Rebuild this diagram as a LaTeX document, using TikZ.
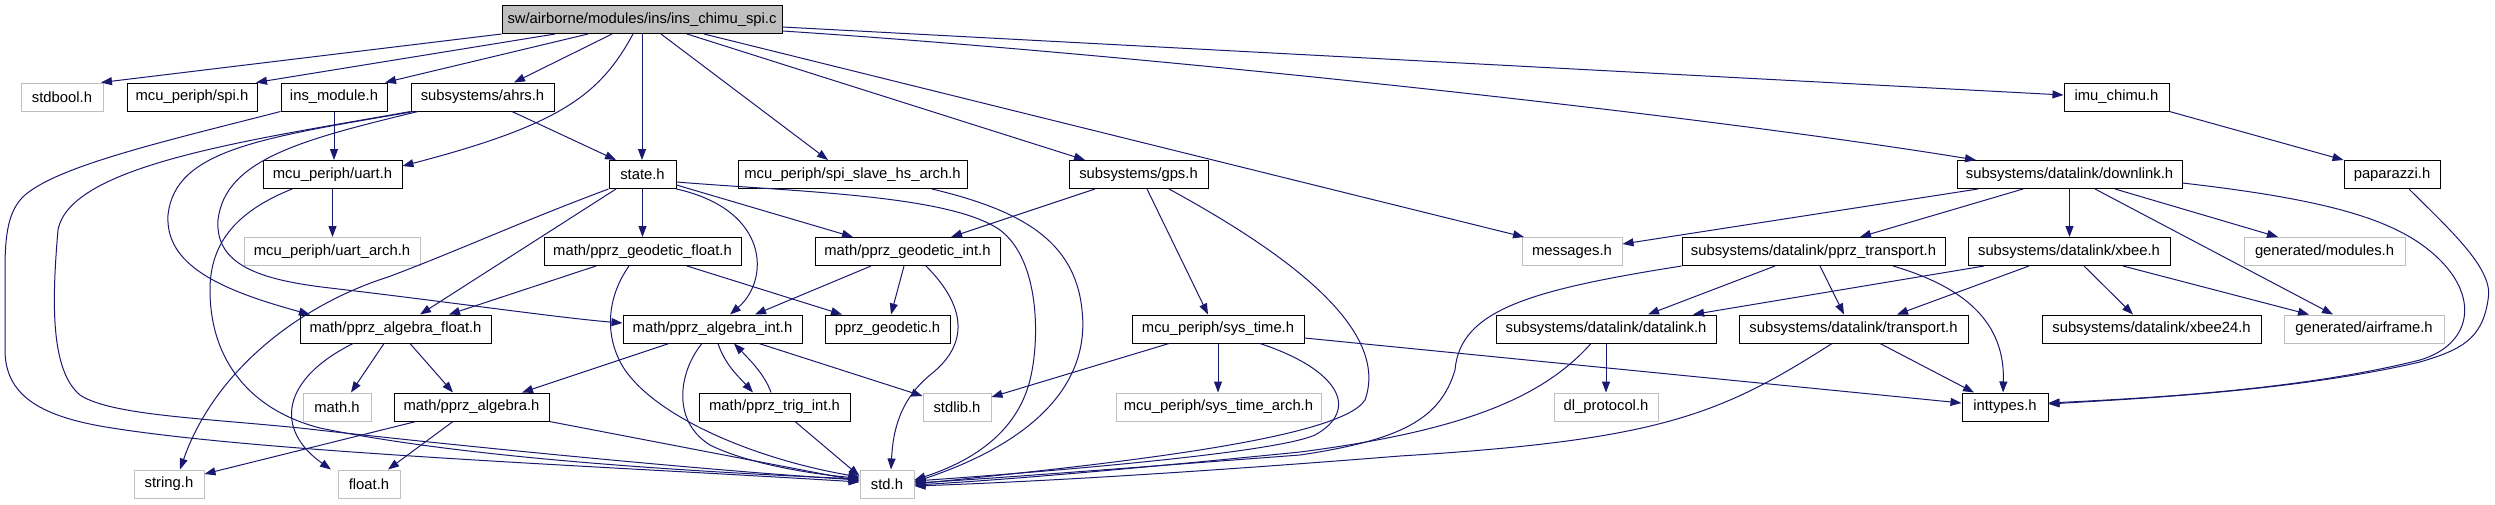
\documentclass[tikz,border=0pt]{standalone}
\usepackage{fontspec}
\setmainfont{Liberation Sans}
\usetikzlibrary{arrows.meta}
\definecolor{edgec}{RGB}{25,25,112}
\definecolor{lgray}{RGB}{191,191,191}
\begin{document}
\begin{tikzpicture}[x=1pt,y=-1pt,
  nb/.style={draw=black, line width=1pt, minimum height=28pt, inner sep=0pt, font=\fontsize{14.8}{16}\selectfont, text=black},
  ng/.style={nb, draw=lgray},
  dep/.style={draw=edgec, line width=1pt, -{Triangle[length=11pt,width=8pt]}}]
\fill[white] (0,0) rectangle (2495,504);
\useasboundingbox (0,0) rectangle (2495,504);
% nodes
\node[nb, minimum width=280pt, fill=lgray] (T) at (642,19.5) {sw/airborne/modules/ins/ins\_chimu\_spi.c};
\node[ng, minimum width=82pt] (stdbool) at (62,97) {stdbool.h};
\node[nb, minimum width=130pt] (spi) at (192,97) {mcu\_periph/spi.h};
\node[nb, minimum width=106pt] (insmod) at (334,97) {ins\_module.h};
\node[nb, minimum width=143pt] (ahrs) at (482.5,97) {subsystems/ahrs.h};
\node[nb, minimum width=105pt] (imu) at (2116.5,97) {imu\_chimu.h};
\node[nb, minimum width=139pt] (uart) at (332.5,174.5) {mcu\_periph/uart.h};
\node[nb, minimum width=67pt] (state) at (642.5,174.5) {state.h};
\node[nb, minimum width=229pt] (spislave) at (852.5,174.5) {mcu\_periph/spi\_slave\_hs\_arch.h};
\node[nb, minimum width=139pt] (gps) at (1138.5,174.5) {subsystems/gps.h};
\node[nb, minimum width=225pt] (downlink) at (2069.5,174.5) {subsystems/datalink/downlink.h};
\node[nb, minimum width=96pt] (paparazzi) at (2392,174.5) {paparazzi.h};
\node[ng, minimum width=176pt] (uartarch) at (332,251.5) {mcu\_periph/uart\_arch.h};
\node[nb, minimum width=197pt] (geofloat) at (642.5,251.5) {math/pprz\_geodetic\_float.h};
\node[nb, minimum width=185pt] (geoint) at (907.5,251.5) {math/pprz\_geodetic\_int.h};
\node[ng, minimum width=100pt] (messages) at (1572,251.5) {messages.h};
\node[nb, minimum width=263pt] (pprztrans) at (1813.5,251.5) {subsystems/datalink/pprz\_transport.h};
\node[nb, minimum width=202pt] (xbee) at (2069,251.5) {subsystems/datalink/xbee.h};
\node[ng, minimum width=161pt] (genmod) at (2324.5,251.5) {generated/modules.h};
\node[nb, minimum width=191pt] (algfloat) at (395.5,329) {math/pprz\_algebra\_float.h};
\node[nb, minimum width=179pt] (algint) at (712.5,329) {math/pprz\_algebra\_int.h};
\node[nb, minimum width=125pt] (geodetic) at (887.5,329) {pprz\_geodetic.h};
\node[nb, minimum width=172pt] (systime) at (1218,329) {mcu\_periph/sys\_time.h};
\node[nb, minimum width=220pt] (datalink) at (1606,329) {subsystems/datalink/datalink.h};
\node[nb, minimum width=229pt] (transport) at (1853.5,329) {subsystems/datalink/transport.h};
\node[nb, minimum width=219pt] (xbee24) at (2151.5,329) {subsystems/datalink/xbee24.h};
\node[ng, minimum width=160pt] (airframe) at (2364,329) {generated/airframe.h};
\node[ng, minimum width=68pt] (mathh) at (337,407) {math.h};
\node[nb, minimum width=155pt] (algebra) at (471.5,407) {math/pprz\_algebra.h};
\node[nb, minimum width=151pt] (trigint) at (774.5,407) {math/pprz\_trig\_int.h};
\node[ng, minimum width=68pt] (stdlib) at (957,407) {stdlib.h};
\node[ng, minimum width=205pt] (systimearch) at (1218.5,407) {mcu\_periph/sys\_time\_arch.h};
\node[ng, minimum width=104pt] (dlproto) at (1606,407) {dl\_protocol.h};
\node[nb, minimum width=86pt] (inttypes) at (2005,407) {inttypes.h};
\node[ng, minimum width=70pt] (stringh) at (169,484) {string.h};
\node[ng, minimum width=62pt] (floath) at (369,484) {float.h};
\node[ng, minimum width=54pt] (stdh) at (887,484) {std.h};
% edges from top node
\draw[dep] (T.south west) -- (stdbool.north -| 101,0);
\draw[dep] (T.south -| 555,0) -- (spi.north -| 256,0);
\draw[dep] (T.south -| 588,0) -- (insmod.north -| 385,0);
\draw[dep] (T.south -| 612,0) -- (ahrs.north -| 514,0);
\draw[dep] (T.south -| 633,0) .. controls (600,95) and (560,125) .. (uart.east |- 0,166);
\draw[dep] (T.south) -- (T.south |- state.north);
\draw[dep] (T.south -| 661,0) -- (spislave.north -| 828,0);
\draw[dep] (T.south -| 687,0) -- (gps.north -| 1085,0);
\draw[dep] (T.south -| 704,0) -- (messages.north -| 1524,0);
\draw[dep] (T.east |- 0,31) .. controls (1150,55) and (1700,115) .. (downlink.north -| 1976,0);
\draw[dep] (T.east |- 0,27) -- (imu.west |- 0,95);
% ins_module
\draw[dep] (insmod.south) -- (insmod.south |- uart.north);
\draw[dep] (insmod.south west) .. controls (170,140) and (60,165) .. (25,195) .. controls (8,210) and (5,235) .. (5,270) -- (5,350) .. controls (5,395) and (40,415) .. (100,426) .. controls (250,452) and (600,466) .. (stdh.west |- 0,482);
% ahrs
\draw[dep] (ahrs.south -| 512,0) -- (state.north -| 616,0);
\draw[dep] (ahrs.south west) .. controls (250,140) and (70,165) .. (58,230) .. controls (52,300) and (50,370) .. (80,395) .. controls (110,415) and (200,418) .. (300,428) .. controls (450,445) and (700,470) .. (stdh.west |- 0,480);
\draw[dep] (ahrs.south -| 414,0) .. controls (260,138) and (175,150) .. (168,215) .. controls (165,265) and (220,290) .. (algfloat.north -| 310,0);
\draw[dep] (ahrs.south -| 418,0) .. controls (300,140) and (225,160) .. (218,220) .. controls (215,265) and (260,280) .. (330,288) .. controls (450,302) and (560,318) .. (algint.west |- 0,323);
% uart
\draw[dep] (uart.south) -- (uart.south |- uartarch.north);
\draw[dep] (uart.south -| 292,0) .. controls (240,210) and (210,240) .. (210,290) .. controls (210,360) and (250,410) .. (320,428) .. controls (450,455) and (650,470) .. (stdh.west |- 0,479);
% state
\draw[dep] (state.south) -- (state.south |- geofloat.north);
\draw[dep] (state.east |- 0,185) -- (geoint.north -| 853,0);
\draw[dep] (state.south east) .. controls (770,210) and (770,280) .. (algint.north -| 730,0);
\draw[dep] (state.east |- 0,182) .. controls (800,192) and (950,195) .. (1000,230) .. controls (1040,260) and (1040,340) .. (1030,380) .. controls (1015,440) and (960,465) .. (stdh.east |- 0,480);
\draw[dep] (state.south west) .. controls (520,222) and (460,250) .. (388,277) .. controls (300,305) and (215,370) .. (stringh.north -| 180,0);
\draw[dep] (state.south -| 616,0) -- (algfloat.north -| 420,0);
% geodetic float
\draw[dep] (geofloat.south -| 596,0) -- (algfloat.north -| 449,0);
\draw[dep] (geofloat.south -| 687,0) -- (geodetic.north -| 842,0);
\draw[dep] (geofloat.south -| 629,0) .. controls (605,300) and (605,340) .. (625,370) .. controls (660,420) and (760,460) .. (stdh.west |- 0,477);
% geodetic int
\draw[dep] (geoint.south -| 871,0) -- (algint.north -| 755,0);
\draw[dep] (geoint.south -| 904,0) -- (geodetic.north -| 891,0);
\draw[dep] (geoint.south -| 926,0) .. controls (960,300) and (975,340) .. (930,375) .. controls (900,400) and (893,430) .. (stdh.north -| 891,0);
% spi slave
\draw[dep] (spislave.south -| 932,0) .. controls (1020,210) and (1075,240) .. (1082,310) .. controls (1090,380) and (1040,440) .. (stdh.east |- 0,482);
% gps
\draw[dep] (gps.south -| 1095,0) -- (geoint.north -| 951,0);
\draw[dep] (gps.south -| 1147,0) -- (systime.north -| 1208,0);
\draw[dep] (gps.south -| 1169,0) .. controls (1290,255) and (1390,330) .. (1365,400) .. controls (1340,440) and (1100,465) .. (stdh.east |- 0,484);
% sys_time
\draw[dep] (systime.south -| 1169,0) -- (stdlib.east |- 0,397);
\draw[dep] (systime.south) -- (systime.south |- systimearch.north);
\draw[dep] (systime.south -| 1260,0) .. controls (1340,370) and (1360,410) .. (1315,435) .. controls (1270,455) and (1000,475) .. (stdh.east |- 0,481);
\draw[dep] (systime.east |- 0,338) -- (inttypes.west |- 0,403);
% algebra float
\draw[dep] (algfloat.south -| 384,0) -- (mathh.north -| 351,0);
\draw[dep] (algfloat.south -| 410,0) -- (algebra.north -| 453,0);
\draw[dep] (algfloat.south -| 353,0) .. controls (280,380) and (275,430) .. (floath.north -| 331,0);
% algebra int
\draw[dep] (algint.south -| 669,0) -- (algebra.north -| 522,0);
\draw[dep] (algint.south -| 718,0) .. controls (725,365) and (740,378) .. (trigint.north -| 753,0);
\draw[dep] (trigint.north -| 771,0) .. controls (765,375) and (750,360) .. (algint.south -| 734,0);
\draw[dep] (algint.south -| 759,0) -- (stdlib.west |- 0,396);
\draw[dep] (algint.south -| 702,0) .. controls (680,370) and (670,420) .. (710,445) .. controls (750,465) and (820,475) .. (stdh.west |- 0,478);
\draw[dep] (trigint.south -| 795,0) -- (stdh.west |- 0,476);
% algebra
\draw[dep] (algebra.south -| 416,0) -- (stringh.east |- 0,474);
\draw[dep] (algebra.south -| 453,0) -- (floath.north -| 388,0);
\draw[dep] (algebra.south east) -- (stdh.west |- 0,481);
% downlink
\draw[dep] (downlink.south -| 1978,0) -- (messages.east |- 0,244);
\draw[dep] (downlink.south -| 2023,0) -- (pprztrans.north -| 1860,0);
\draw[dep] (downlink.south) -- (downlink.south |- xbee.north);
\draw[dep] (downlink.south -| 2115,0) -- (genmod.north -| 2278,0);
\draw[dep] (downlink.south -| 2095,0) -- (airframe.north -| 2333,0);
\draw[dep] (downlink.east |- 0,183) .. controls (2330,200) and (2400,220) .. (2440,260) .. controls (2480,300) and (2470,345) .. (2420,360) .. controls (2300,390) and (2150,398) .. (inttypes.east |- 0,403);
% paparazzi, imu
\draw[dep] (paparazzi.south -| 2409,0) .. controls (2450,230) and (2495,270) .. (2488,300) .. controls (2482,340) and (2460,350) .. (2420,362) .. controls (2300,390) and (2150,398) .. (inttypes.east |- 0,404);
\draw[dep] (imu.south east) -- (paparazzi.north west);
% pprz_transport
\draw[dep] (pprztrans.south west) .. controls (1530,290) and (1460,310) .. (1455,370) .. controls (1440,420) and (1400,440) .. (1300,455) .. controls (1100,470) and (1000,478) .. (stdh.east |- 0,483);
\draw[dep] (pprztrans.south -| 1775,0) -- (datalink.north -| 1648,0);
\draw[dep] (pprztrans.south -| 1820,0) -- (transport.north -| 1844,0);
\draw[dep] (pprztrans.south -| 1893,0) .. controls (1975,290) and (2005,330) .. (inttypes.north -| 2003,0);
% xbee
\draw[dep] (xbee.south -| 1984,0) -- (datalink.north -| 1693,0);
\draw[dep] (xbee.south -| 2029,0) -- (transport.north -| 1897,0);
\draw[dep] (xbee.south -| 2084,0) -- (xbee24.north -| 2133,0);
\draw[dep] (xbee.south -| 2123,0) -- (airframe.north -| 2309,0);
% datalink
\draw[dep] (datalink.south) -- (datalink.south |- dlproto.north);
\draw[dep] (datalink.south -| 1591,0) .. controls (1545,395) and (1470,430) .. (1300,452) .. controls (1100,472) and (1000,480) .. (stdh.east |- 0,485);
% transport
\draw[dep] (transport.south -| 1880,0) -- (inttypes.north -| 1974,0);
\draw[dep] (transport.south -| 1832,0) .. controls (1720,415) and (1660,440) .. (1400,456) .. controls (1150,476) and (1000,483) .. (stdh.east |- 0,486);
\end{tikzpicture}
\end{document}
